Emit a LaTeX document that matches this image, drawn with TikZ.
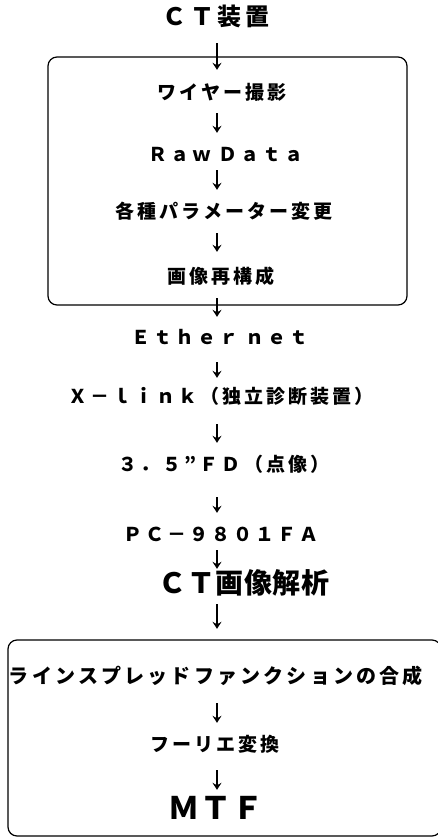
\documentclass[tikz,border=0pt]{standalone}
\usepackage{fontspec}
\newfontfamily\jp{Noto Sans CJK JP}[LetterSpace=16]
\usetikzlibrary{arrows.meta}
\tikzset{
  lbl/.style={inner sep=0pt, font=\jp\bfseries\fontsize{19}{19}\selectfont, text height=15pt, text depth=3pt},
  biglbl/.style={inner sep=0pt, font=\jp\bfseries\fontsize{24}{24}\selectfont\addfontfeature{LetterSpace=15}, text height=19pt, text depth=4pt},
  hugelbl/.style={inner sep=0pt, font=\jp\bfseries\fontsize{28}{28}\selectfont\addfontfeature{LetterSpace=2}, text height=22pt, text depth=5pt},
  mtflbl/.style={inner sep=0pt, font=\jp\bfseries\fontsize{31}{31}\selectfont\addfontfeature{LetterSpace=3}, text height=22.6pt, text depth=0pt},
  arr/.style={line width=1.3pt, -{Stealth[length=7pt,width=9pt,inset=2.5pt]}},
  boxline/.style={line width=1.2pt, rounded corners=9pt}
}
\begin{document}
\begin{tikzpicture}[x=1pt,y=-1pt]
\useasboundingbox (0,0) rectangle (438,838);
\coordinate (X) at (217,0);
% boxes
\draw[boxline] (48,57) rectangle (407,305);
\draw[boxline] (8,640) rectangle (441,836);
% nodes
\node[biglbl] (ct) at (216,18) {ＣＴ装置};
\node[lbl] (wire) at (222,93) {ワイヤー撮影};
\node[lbl] (raw) at (226,155) {Ｒａｗ Ｄａｔａ};
\node[lbl] (param) at (224,212) {各種パラメーター変更};
\node[lbl] (recon) at (221,277) {画像再構成};
\node[lbl] (eth) at (220,338) {Ｅｔｈｅｒ ｎｅｔ};
\node[lbl] (xlink) at (221,397) {Ｘ－ｌｉｎｋ（独立診断装置）};
\node[lbl] (fd) at (224,465) {３．５”ＦＤ（点像）};
\node[lbl] (pc) at (221,535) {ＰＣ－９８０１ＦＡ};
\node[hugelbl] (ana) at (244,585) {ＣＴ画像解析};
\node[lbl, font=\jp\bfseries\fontsize{20}{20}\selectfont] (lsf) at (216,677) {ラインスプレッドファンクションの合成};
\node[lbl] (ft) at (215,745) {フーリエ変換};
\node[mtflbl] (mtf) at (216,808) {ＭＴＦ};
% arrows
\draw[arr, shorten <=13.5pt, shorten >=14pt] (ct.south -| X) -- (wire.north -| X);
\draw[arr, shorten <=11pt, shorten >=13pt] (wire.south -| X) -- (raw.north -| X);
\draw[arr, shorten <=6pt, shorten >=13pt] (raw.south -| X) -- (param.north -| X);
\draw[arr, shorten <=12pt, shorten >=16pt] (param.south -| X) -- (recon.north -| X);
\draw[arr, shorten <=12pt, shorten >=12pt] (recon.south -| X) -- (eth.north -| X);
\draw[arr, shorten <=15pt, shorten >=10pt] (eth.south -| X) -- (xlink.north -| X);
\draw[arr, shorten <=18pt, shorten >=13pt] (xlink.south -| X) -- (fd.north -| X);
\draw[arr, shorten <=23pt, shorten >=13pt] (fd.south -| X) -- (pc.north -| X);
\draw[arr, shorten <=6pt, shorten >=2.5pt] (pc.south -| X) -- (ana.north -| X);
\draw[arr, shorten <=5.5pt, shorten >=39pt] (ana.south -| X) -- (lsf.north -| X);
\draw[arr, shorten <=17pt, shorten >=13pt] (lsf.south -| X) -- (ft.north -| X);
\draw[arr, shorten <=16pt, shorten >=6.7pt] (ft.south -| X) -- (mtf.north -| X);
\end{tikzpicture}
\end{document}
